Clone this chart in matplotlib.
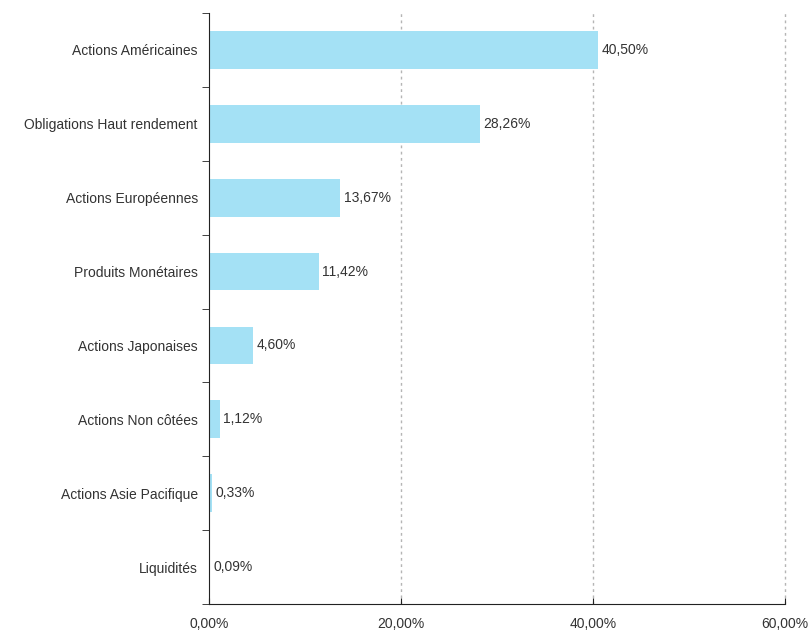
import numpy as np
import matplotlib.pyplot as plt
from matplotlib.ticker import FixedLocator

categories = ["Actions Américaines", "Obligations Haut rendement", "Actions Européennes",
              "Produits Monétaires", "Actions Japonaises", "Actions Non côtées",
              "Actions Asie Pacifique", "Liquidités"]
values = [40.50, 28.26, 13.67, 11.42, 4.60, 1.12, 0.33, 0.09]
xticks = [0, 20, 40, 60]

plt.rcParams['font.family'] = ['Liberation Sans', 'DejaVu Sans']

fig = plt.figure(figsize=(8.09, 6.35), dpi=100)
ax = fig.add_axes([0.2583, 0.0488, 0.712, 0.9307])

n = len(categories)
ypos = np.arange(n)[::-1]
ax.barh(ypos, values, height=0.51, color='#a4e1f5', zorder=2)

for y, v in zip(ypos, values):
    ax.text(v + 0.35, y, "{:.2f}%".format(v).replace('.', ','), va='center', ha='left',
            fontsize=10, color='#333333')

ax.set_xlim(0, 60)
ax.set_ylim(-0.5, n - 0.5)
ax.set_xticks(xticks)
ax.set_xticklabels(["{:.2f}%".format(t).replace('.', ',') for t in xticks], fontsize=10, color='#333333')
ax.set_yticks(ypos)
ax.set_yticklabels(categories, fontsize=10, color='#333333')
ax.tick_params(axis='y', length=0, pad=8)
ax.yaxis.set_minor_locator(FixedLocator(np.arange(-0.5, n, 1)))
ax.tick_params(axis='y', which='minor', length=5, direction='out', color='#222222')
ax.tick_params(axis='x', direction='in', length=4, pad=9, color='#222222')

for t in xticks[1:]:
    ax.axvline(t, color='#b5b5b5', linestyle=(0, (2, 2.5)), linewidth=1, zorder=1, clip_on=False)

for s in ['top', 'right']:
    ax.spines[s].set_visible(False)
ax.spines['left'].set_color('#222222')
ax.spines['bottom'].set_color('#222222')

fig.savefig('out.png', dpi=100)
